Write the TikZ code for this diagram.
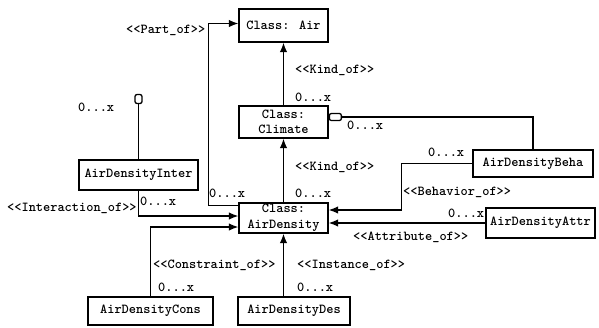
\documentclass[tikz,border=0pt]{standalone}
\usepackage{fontspec}
\usetikzlibrary{arrows.meta}
\newcommand\stereo[1]{<\kern0pt<#1>\kern0pt>}
\begin{document}
\begin{tikzpicture}[x=1pt,y=-1pt,
  font=\ttfamily\bfseries\fontsize{13.7}{15.5}\selectfont,
  box/.style={draw,line width=1.4pt,inner sep=0pt,align=center},
  conn/.style={line width=1.3pt},
  arr/.style={conn,-{Latex[length=9.5pt,width=7.5pt]}},
  lbl/.style={anchor=west,inner sep=0pt},
  agg/.style={draw,line width=1.3pt,rounded corners=2pt,inner sep=0pt,fill=white}
]
\useasboundingbox (0,0) rectangle (599,327);
% class boxes
\node[box,minimum width=89pt,minimum height=33pt] (air) at (283.5,25.5) {Class: Air};
\node[box,minimum width=89pt,minimum height=32pt] (climate) at (283.5,122) {Class:\\Climate};
\node[box,minimum width=89pt,minimum height=30pt] (ad) at (283.5,218) {Class:\\AirDensity};
\node[box,minimum width=119pt,minimum height=30pt] (inter) at (138.5,175) {AirDensityInter};
\node[box,minimum width=120pt,minimum height=27pt] (beha) at (533,163.5) {AirDensityBeha};
\node[box,minimum width=109pt,minimum height=30pt] (attr) at (540.5,223) {AirDensityAttr};
\node[box,minimum width=125pt,minimum height=28pt] (cons) at (150.5,311) {AirDensityCons};
\node[box,minimum width=112pt,minimum height=28pt] (des) at (294,311) {AirDensityDes};
% aggregation markers
\node[agg,minimum width=7pt,minimum height=9pt] (im) at (138.5,99) {};
\node[agg,minimum width=12pt,minimum height=7pt,anchor=west] (cm) at ([yshift=5pt]climate.east) {};
% connectors
\draw[arr] (climate.north) -- (air.south);
\draw[arr] (ad.north) -- (climate.south);
\draw[arr] ([yshift=-3pt]ad.north west) -- ++(-30,0) |- ([yshift=2pt]air.west);
\draw[conn] (inter.north) -- (im.south);
\draw[arr] (inter.south) |- ([yshift=2pt]ad.west);
\draw[arr] (cons.north) |- ([yshift=-9pt]ad.west);
\draw[arr] (ad.south |- des.north) -- (ad.south);
\draw[conn] (cm.east) -| (beha.north);
\draw[arr] (beha.west) -- ++(-71,0) |- ([yshift=8pt]ad.east);
\draw[arr] (attr.west) -- (attr.west -| ad.east);
% labels
\node[lbl] (lpart) at (126,30) {\stereo{Part\_of}};
\node[lbl] (lkind1) at (295,70) {\stereo{Kind\_of}};
\node[lbl] (mkind1) at (295,97) {0...x};
\node[lbl] (lkind2) at (295,167) {\stereo{Kind\_of}};
\node[lbl] (mkind2) at (295,193) {0...x};
\node[lbl] (mpart) at (209,193) {0...x};
\node[lbl] (minter1) at (78,107) {0...x};
\node[lbl] (mclim) at (347,125) {0...x};
\node[lbl] (mbeha) at (428,152) {0...x};
\node[lbl] (lbeha) at (403,192) {\stereo{Behavior\_of}};
\node[lbl] (mattr) at (448,213) {0...x};
\node[lbl] (lattr) at (353,237) {\stereo{Attribute\_of}};
\node[lbl] (linter) at (7,208) {\stereo{Interaction\_of}};
\node[lbl] (minter2) at (140,201) {0...x};
\node[lbl] (lcons) at (153,265) {\stereo{Constraint\_of}};
\node[lbl] (mcons) at (158,287) {0...x};
\node[lbl] (linst) at (297,265) {\stereo{Instance\_of}};
\node[lbl] (minst) at (297,287) {0...x};
\end{tikzpicture}
\end{document}
